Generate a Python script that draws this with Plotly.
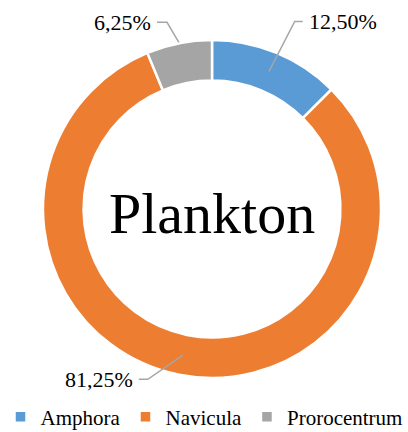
import math
import plotly.graph_objects as go

categories = ["Amphora", "Navicula", "Prorocentrum"]
values = [12.50, 81.25, 6.25]
colors = ["#5B9BD5", "#ED7D31", "#A5A5A5"]
center_title = "Plankton"

W, H = 408, 432
CX, CY, R = 212, 209, 169
HOLE = 0.76

# per-label leader style: start radius, elbow radius, elbow angle offset, horizontal length
leader_style = [
    dict(r0=149, r1=205, dang=1.3, hlen=8),
    dict(r0=149, r1=182, dang=9.4, hlen=9),
    dict(r0=170, r1=192, dang=-2.3, hlen=10),
]

fig = go.Figure(go.Pie(
    labels=categories, values=values, hole=HOLE, sort=False, direction="clockwise",
    rotation=0, marker=dict(colors=colors, line=dict(color="white", width=2.5)),
    textinfo="none", hoverinfo="label+percent",
    domain=dict(x=[(CX - R) / W, (CX + R) / W], y=[(H - CY - R) / H, (H - CY + R) / H]),
))

def px(x, y):
    return x / W, 1 - y / H

def polar(theta, r):
    t = math.radians(theta)
    return CX + r * math.sin(t), CY - r * math.cos(t)

total = sum(values)
cum = 0
shapes, annotations = [], []
for v, st in zip(values, leader_style):
    mid = (cum + v / 2) / total * 360
    cum += v
    x0, y0 = polar(mid, st["r0"])
    x1, y1 = polar(mid + st["dang"], st["r1"])
    side = 1 if math.sin(math.radians(mid + st["dang"])) >= 0 else -1
    x2 = x1 + side * st["hlen"]
    path = "M{},{} L{},{} L{},{}".format(*px(x0, y0), *px(x1, y1), *px(x2, y1))
    shapes.append(dict(type="path", xref="paper", yref="paper", path=path,
                       line=dict(color="#A6A6A6", width=1.5)))
    lx, ly = px(x2 + side * 4, y1)
    annotations.append(dict(x=lx, y=ly, xref="paper", yref="paper",
                            text=f"{v:.2f}%".replace(".", ","), showarrow=False,
                            xanchor="left" if side > 0 else "right", yanchor="middle",
                            font=dict(family="Liberation Serif", size=22, color="#000000")))

cx_p, cy_p = px(CX, CY + 4)
annotations.append(dict(x=cx_p, y=cy_p, xref="paper", yref="paper", text=center_title,
                        showarrow=False, xanchor="center", yanchor="middle",
                        font=dict(family="Liberation Serif", size=58, color="#000000")))

fig.update_layout(
    width=W, height=H, margin=dict(l=0, r=0, t=0, b=0, autoexpand=False),
    paper_bgcolor="white", plot_bgcolor="white",
    shapes=shapes, annotations=annotations,
    showlegend=True,
    legend=dict(orientation="h", x=0.5, xanchor="center", xref="container",
                y=1 - 417 / H, yanchor="middle", yref="container",
                font=dict(family="Liberation Serif", size=21, color="#000000"),
                itemwidth=30, itemclick=False, traceorder="normal", tracegroupgap=0,
                bgcolor="rgba(0,0,0,0)"),
)

fig.write_html("out.html")
